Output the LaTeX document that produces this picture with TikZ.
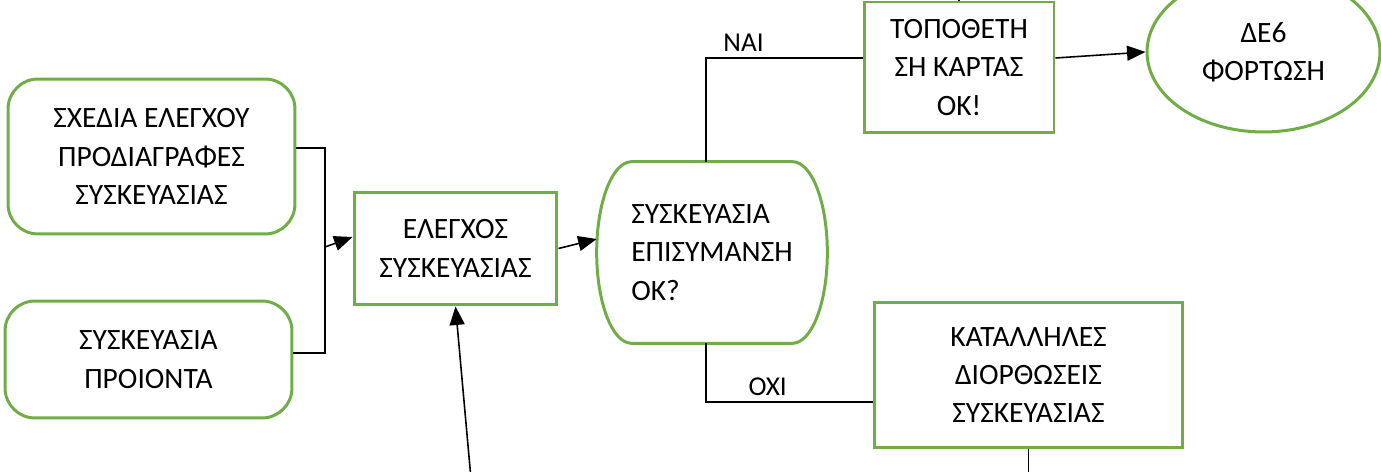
\documentclass[tikz,border=0pt]{standalone}
\usepackage{fontspec}
\setmainfont{Carlito}
\usetikzlibrary{arrows.meta,shapes.geometric}
\definecolor{boxgreen}{RGB}{112,173,71}

\begin{document}
\begin{tikzpicture}[x=0.02cm, y=-0.02cm,
  every node/.style={font=\fontsize{16.8}{21.8}\selectfont},
  box/.style={draw=boxgreen, line width=1.7pt, rectangle, align=center},
  roundbox/.style={box, rounded corners=0.6cm},
  flow/.style={draw=black, line width=0.9pt},
  arr/.style={flow, -{Triangle[length=0.37cm, width=0.3cm]}},
  lbl/.style={font=\fontsize{15.5}{18}\selectfont, inner sep=3pt}]
  \useasboundingbox (0,0) rectangle (1381,472);

  \node[roundbox, minimum width=5.74cm, minimum height=3.1cm] (plans) at (151.5,156.5) {ΣΧΕΔΙΑ ΕΛΕΓΧΟΥ\\ΠΡΟΔΙΑΓΡΑΦΕΣ\\ΣΥΣΚΕΥΑΣΙΑΣ};
  \node[roundbox, minimum width=5.74cm, minimum height=2.34cm] (prod) at (148.5,359.5) {ΣΥΣΚΕΥΑΣΙΑ\\ΠΡΟΙΟΝΤΑ};
  \node[box, minimum width=4.06cm, minimum height=2.26cm] (check) at (455.5,248.5) {ΕΛΕΓΧΟΣ\\ΣΥΣΚΕΥΑΣΙΑΣ};
  \node[rectangle, align=left, minimum width=4.6cm, minimum height=3.62cm] (dec) at (712,252.5) {ΣΥΣΚΕΥΑΣΙΑ\\ΕΠΙΣΥΜΑΝΣΗ\\ΟΚ?};
  \node[box, minimum width=3.8cm, minimum height=2.62cm] (place) at (959,67.5) {ΤΟΠΟΘΕΤΗ\\ΣΗ ΚΑΡΤΑΣ\\ΟΚ!};
  \node[draw=boxgreen, line width=1.7pt, ellipse, align=center, minimum width=4.66cm, minimum height=3.2cm] (load) at (1263.5,52) {ΔΕ6\\ΦΟΡΤΩΣΗ};
  \node[box, minimum width=6.18cm, minimum height=2.92cm] (fix) at (1028.5,375) {ΚΑΤΑΛΛΗΛΕΣ\\ΔΙΟΡΘΩΣΕΙΣ\\ΣΥΣΚΕΥΑΣΙΑΣ};

  \draw[boxgreen, line width=1.7pt]
    ([xshift=0.7cm]dec.north west) -- ([xshift=-0.7cm]dec.north east)
    .. controls ([xshift=-0.31cm]dec.north east) and ([yshift=1cm]dec.east) .. (dec.east)
    .. controls ([yshift=-1cm]dec.east) and ([xshift=-0.31cm]dec.south east) .. ([xshift=-0.7cm]dec.south east)
    -- ([xshift=0.7cm]dec.south west)
    .. controls ([xshift=0.31cm]dec.south west) and ([yshift=-1cm]dec.west) .. (dec.west)
    .. controls ([yshift=1cm]dec.west) and ([xshift=0.31cm]dec.north west) .. ([xshift=0.7cm]dec.north west) -- cycle;

  \coordinate (join) at (325,247);
  \coordinate (topout) at (959,-20);
  \coordinate (fixout) at (1028.5,490);
  \coordinate (retin) at (472,490);

  \draw[flow] ([yshift=0.17cm]plans.east) -| (join) |- ([yshift=0.13cm]prod.east);
  \draw[arr] (join) -- ([yshift=0.23cm]check.west);
  \draw[arr] (check.east) -- ([yshift=0.27cm]dec.west);
  \draw[flow] ([xshift=-0.12cm]dec.north) |- ([yshift=0.19cm]place.west) node[lbl, pos=0.62, above] {ΝΑΙ};
  \draw[flow] ([xshift=-0.12cm]dec.south) |- ([yshift=-0.54cm]fix.west) node[lbl, pos=0.685, above] {ΟΧΙ};
  \draw[arr] ([yshift=0.19cm]place.east) -- (load.west);
  \draw[flow] (place.north) -- (topout);
  \draw[flow] (fix.south) -- (fixout);
  \draw[arr] (retin) -- (check.south);
\end{tikzpicture}
\end{document}
